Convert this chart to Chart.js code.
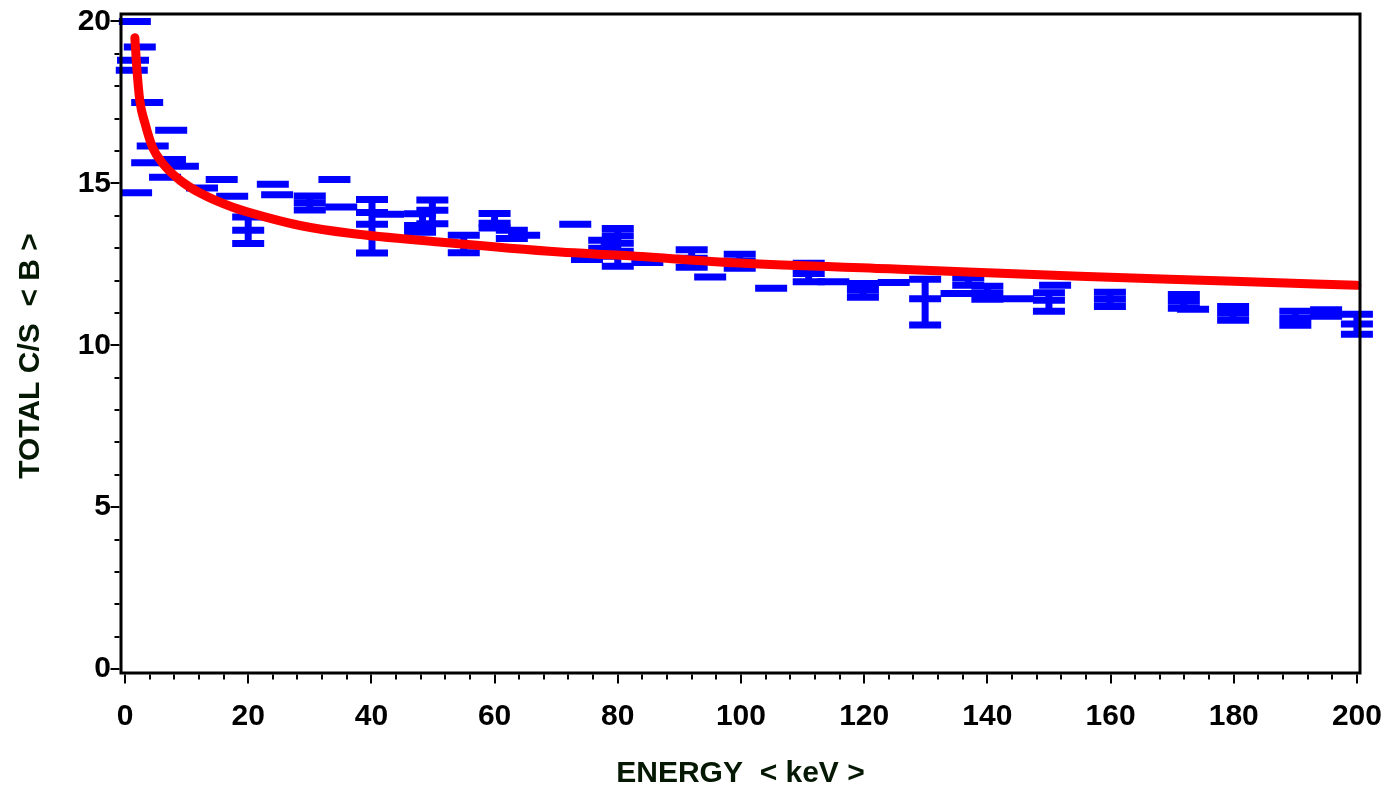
<!DOCTYPE html>
<html>
<head>
<meta charset="utf-8">
<script src="https://cdn.jsdelivr.net/npm/chart.js@4.4.1/dist/chart.umd.min.js"></script>
<style>
html,body{margin:0;padding:0;background:#ffffff;}
#wrap{width:1394px;height:789px;position:relative;}
</style>
</head>
<body>
<div id="wrap"><canvas id="c" width="1394" height="789"></canvas></div>
<script>
// ---- tick labels ----
const xTickValues = [0, 20, 40, 60, 80, 100, 120, 140, 160, 180, 200];
const yTickValues = [0, 5, 10, 15, 20];
const xMinorStep = 4;
const yMinorStep = 1;

// ---- blue measurement ticks (energy, count rate) ----
const barX = [1.6, 2.4, 1.3, 1.1, 3.6, 7.5, 4.5, 3.6, 7.3, 9.4, 6.5, 1.8, 12.5, 15.7, 17.4,
  20.0, 20.0, 20.0, 24.0, 24.7, 30.0, 30.0, 30.0, 34.0, 35.1,
  40.1, 40.1, 40.1, 40.1, 42.7, 47.9, 47.9, 47.9, 49.9, 49.9, 49.9,
  55.0, 55.0, 60.0, 60.0, 60.0, 62.8, 62.8, 64.8, 73.1, 75.0,
  77.8, 77.8, 77.8, 80.0, 80.0, 80.0, 80.0, 80.0, 84.8,
  92.0, 92.0, 92.0, 95.0, 99.8, 99.8, 99.8, 104.9,
  111.0, 111.0, 111.0, 115.0, 119.8, 119.8, 119.8, 124.8,
  129.9, 129.9, 129.9, 135.0, 136.9, 136.9, 140.0, 140.0, 140.0, 145.0,
  150.0, 150.0, 150.0, 151.0, 159.9, 159.9, 159.9,
  171.9, 171.9, 171.9, 173.4, 179.9, 179.9, 179.9,
  190.0, 190.0, 190.0, 195.0, 195.0, 200.0, 200.0, 200.0];
const barY = [20.0, 19.21, 18.8, 18.49, 17.5, 16.64, 16.15, 15.64, 15.74, 15.53, 15.19, 14.71, 14.86, 15.12, 14.6,
  13.96, 13.55, 13.14, 14.97, 14.65, 14.61, 14.40, 14.18, 15.12, 14.27,
  14.50, 14.10, 13.74, 12.85, 14.05, 14.06, 13.70, 13.49, 14.49, 14.17, 13.75,
  13.40, 12.86, 14.07, 13.77, 13.62, 13.55, 13.30, 13.40, 13.74, 12.65,
  13.24, 13.00, 12.75, 13.61, 13.38, 13.15, 12.90, 12.44, 12.56,
  12.95, 12.69, 12.41, 12.11, 12.81, 12.59, 12.38, 11.76,
  12.53, 12.22, 11.96, 11.96, 11.91, 11.70, 11.48, 11.94,
  12.04, 11.44, 10.63, 11.60, 12.08, 11.85, 11.82, 11.60, 11.42, 11.44,
  11.62, 11.39, 11.05, 11.85, 11.64, 11.42, 11.20,
  11.57, 11.36, 11.14, 11.11, 11.20, 10.99, 10.77,
  11.05, 10.83, 10.62, 11.10, 10.90, 10.96, 10.66, 10.34];

// ---- vertical error lines ----
const errX  = [20.0, 30.0, 40.1, 48.3, 49.9, 55.0, 60.0, 77.8, 80.0, 92.0, 99.8, 111.0, 119.8, 129.9, 136.9, 140.0, 150.0, 159.9, 171.9, 179.9, 190.0, 200.0];
const errLo = [13.14, 14.18, 12.85, 13.49, 13.75, 12.86, 13.62, 12.75, 12.44, 12.41, 12.38, 11.96, 11.48, 10.63, 11.85, 11.42, 11.05, 11.20, 11.14, 10.77, 10.62, 10.34];
const errHi = [13.96, 14.61, 14.50, 14.06, 14.49, 13.40, 14.07, 13.24, 13.61, 12.95, 12.81, 12.53, 11.91, 12.04, 12.08, 11.82, 11.62, 11.64, 11.57, 11.20, 11.05, 10.96];

// ---- red fitted curve ----
const curveX = [1.6, 1.75, 1.9, 2.4, 3.25, 4.5, 6.2, 8.9, 12.2, 17.5, 23, 28.4, 36.5, 51, 70.6, 80.4, 99.8, 125.8, 155, 180, 200];
const curveY = [19.5, 19.05, 18.6, 17.56, 16.85, 16.1, 15.6, 15.1, 14.7, 14.26, 13.95, 13.7, 13.46, 13.19, 12.88, 12.78, 12.54, 12.35, 12.13, 11.98, 11.85];

const BLUE = '#0000ff';
const RED = '#ff0000';
const TITLE_COLOR = '#041804';
const FONT = "'Liberation Sans', Arial, Helvetica, sans-serif";

const barPoints = barX.map((x, i) => ({x: x, y: barY[i]}));
const errPoints = [];
errX.forEach((x, i) => {
  errPoints.push({x: x, y: errLo[i]});
  errPoints.push({x: x, y: errHi[i]});
  errPoints.push({x: x, y: null});
});
const curvePoints = curveX.map((x, i) => ({x: x, y: curveY[i]}));

const frame = {
  id: 'frame',
  afterDatasetsDraw(chart) {
    const {ctx, chartArea: a, scales} = chart;
    const xs = scales.x, ys = scales.y;
    ctx.save();
    ctx.strokeStyle = '#000';
    ctx.lineWidth = 3;
    ctx.strokeRect(a.left, a.top, a.right - a.left, a.bottom - a.top);
    ctx.lineWidth = 2;
    ctx.beginPath();
    const yMax = yTickValues[yTickValues.length - 1];
    for (let v = yTickValues[0]; v <= yMax + 1e-9; v += yMinorStep) {
      const p = Math.round(ys.getPixelForValue(v));
      const len = (v % 5 === 0) ? 9 : 5;
      ctx.moveTo(a.left - 1.5, p);
      ctx.lineTo(a.left - 1.5 - len, p);
    }
    const xMax = xTickValues[xTickValues.length - 1];
    for (let v = xTickValues[0]; v <= xMax + 1e-9; v += xMinorStep) {
      const p = Math.round(xs.getPixelForValue(v));
      const len = (v % 20 === 0) ? 9 : 5;
      ctx.moveTo(p, a.bottom + 1.5);
      ctx.lineTo(p, a.bottom + 1.5 + len);
    }
    ctx.stroke();
    ctx.restore();
  }
};

function noPad(s) {
  s.paddingTop = 0; s.paddingBottom = 0; s.paddingLeft = 0; s.paddingRight = 0;
}

new Chart(document.getElementById('c'), {
  type: 'scatter',
  data: {
    datasets: [
      {
        label: 'fit',
        type: 'line',
        data: curvePoints,
        borderColor: RED,
        borderWidth: 9,
        borderCapStyle: 'round',
        borderJoinStyle: 'round',
        cubicInterpolationMode: 'monotone',
        pointRadius: 0,
        fill: false,
        clip: false
      },
      {
        label: 'errors',
        type: 'line',
        data: errPoints,
        borderColor: BLUE,
        borderWidth: 7,
        spanGaps: false,
        pointRadius: 0,
        fill: false,
        clip: false
      },
      {
        label: 'data',
        data: barPoints,
        showLine: false,
        pointStyle: 'line',
        pointRadius: 16,
        pointHoverRadius: 16,
        pointBorderWidth: 7,
        pointBorderColor: BLUE,
        pointBackgroundColor: BLUE,
        clip: false
      }
    ]
  },
  options: {
    responsive: false,
    animation: false,
    devicePixelRatio: 1,
    events: [],
    layout: {autoPadding: false, padding: {left: 0, top: 14, right: 34, bottom: 0}},
    plugins: {legend: {display: false}, tooltip: {enabled: false}},
    scales: {
      x: {
        type: 'linear',
        min: -0.65,
        max: 200.5,
        afterBuildTicks: (s) => { s.ticks = xTickValues.map(v => ({value: v})); },
        afterFit: (s) => { s.height = 116; noPad(s); },
        grid: {display: false, drawTicks: false},
        border: {display: false},
        ticks: {
          padding: 26,
          color: '#000',
          font: {family: FONT, size: 30, weight: 'bold'},
          maxRotation: 0,
          autoSkip: false
        },
        title: {
          display: true,
          text: 'ENERGY  < keV >',
          color: TITLE_COLOR,
          font: {family: FONT, size: 30, weight: 'bold', lineHeight: 1},
          padding: {top: 0, bottom: 0}
        }
      },
      y: {
        type: 'linear',
        min: -0.12,
        max: 20.23,
        afterBuildTicks: (s) => { s.ticks = yTickValues.map(v => ({value: v})); },
        afterFit: (s) => { s.width = 121; noPad(s); },
        grid: {display: false, drawTicks: false},
        border: {display: false},
        ticks: {
          padding: 10,
          color: '#000',
          font: {family: FONT, size: 30, weight: 'bold'},
          autoSkip: false
        },
        title: {
          display: true,
          text: 'TOTAL C/S  < B >   ',
          color: TITLE_COLOR,
          font: {family: FONT, size: 30, weight: 'bold', lineHeight: 1},
          padding: {top: 16, bottom: 0}
        }
      }
    }
  },
  plugins: [frame]
});
</script>
</body>
</html>
